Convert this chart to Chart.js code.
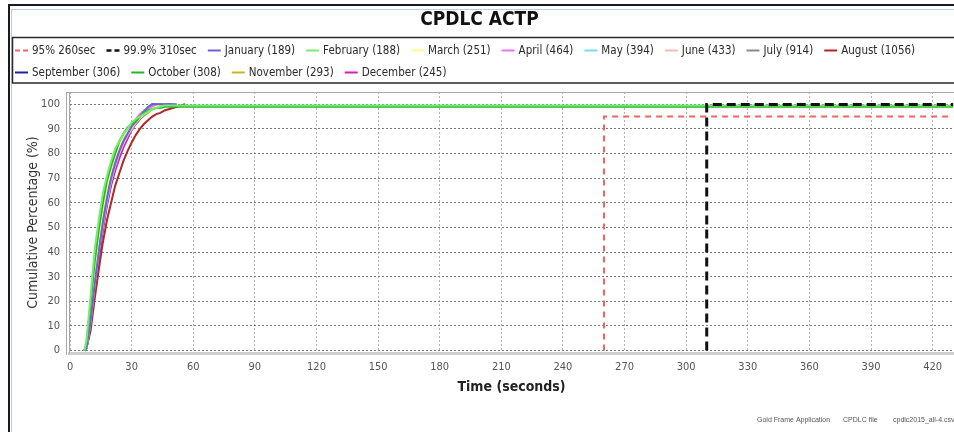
<!DOCTYPE html>
<html>
<head>
<meta charset="utf-8">
<script src="https://cdn.jsdelivr.net/npm/chart.js@4/dist/chart.umd.min.js"></script>
<style>
  html, body { margin: 0; padding: 0; background: #fff; overflow: hidden; }
  #wrap { position: relative; width: 954px; height: 432px; }
</style>
</head>
<body>
<div id="wrap"><canvas id="c" width="954" height="432"></canvas></div>
<script>
// Response time grid (seconds) shared by the monthly cumulative curves
const timeSec = [7, 8, 10, 12, 14, 16, 18, 20, 22, 24, 26, 28, 30, 32, 34, 36, 38, 40, 42, 44, 46, 48, 50, 52, 56, 430];

// Cumulative percentage of messages answered, per month (curve ends at the month's slowest message)
const janPct = [0, 1, 12, 27, 40, 52, 62, 70, 76, 81, 85, 88, 91, 93, 95, 97, 99, 100, 100, 100, 100, 100, 100, 100];
const febPct = [0, 4, 22, 41, 53, 64, 71, 77, 82, 85, 88, 90, 92.5, 94, 95, 96, 97, 98, 98.5, 99, 99.5, 99.5, 99.5, 99.5, 99.5, 99.5];
const marPct = [0, 2, 16, 33, 46, 57, 66, 73, 79, 83, 87, 89, 91, 93, 94.5, 96, 97, 98, 99, 99.5, 100];
const aprPct = [0, 2, 14, 30, 43, 55, 64, 72, 78, 83, 86, 89, 91.5, 94, 96, 97.5, 98.5, 99.5, 100, 100, 100, 100];
const mayPct = [0, 1, 13, 28, 41, 53, 63, 71, 77, 82, 86, 89, 91, 93.5, 95.5, 97, 98.5, 99.5, 100];
const junPct = [0, 1, 12, 27, 40, 51, 61, 69, 75, 80, 84, 87.5, 90, 92.5, 94.5, 96, 97.5, 98.5, 99.5, 100];
const julPct = [0, 1, 11, 26, 39, 50, 60, 68, 75, 80, 84, 87, 90, 92, 94, 95.5, 97, 98, 99, 99.5, 100];
const augPct = [0, 1, 8, 21, 33, 44, 53, 60, 67, 72, 77, 81, 84.5, 87.5, 90, 92, 93.5, 95, 96, 96.5, 97.5, 98, 98.5, 99, 100];
const sepPct = [0, 1, 10, 25, 38, 50, 60, 68, 75, 80, 84.5, 88, 91, 93.5, 95.5, 97, 98.5, 100, 100, 100, 100, 100];
const octPct = [0, 3, 19, 36, 49, 60, 69, 75, 80, 85, 88, 90.5, 92, 93, 95, 96.5, 97.5, 98, 98.5, 98.5, 99, 99, 99, 99, 99, 99];
const novPct = [0, 2, 14, 30, 44, 55, 64, 71, 77, 82, 86, 88, 90, 92, 94, 95.5, 96.5, 98, 99, 100];
const decPct = [0, 1, 10, 24, 37, 49, 59, 67, 73, 78, 82.5, 86, 89.5, 92, 94, 96, 97.5, 99, 100, 100, 100, 100, 100];

const monthNames  = ['January', 'February', 'March', 'April', 'May', 'June', 'July', 'August', 'September', 'October', 'November', 'December'];
const monthCounts = [189, 188, 251, 464, 394, 433, 914, 1056, 306, 308, 293, 245];
const monthPct    = [janPct, febPct, marPct, aprPct, mayPct, junPct, julPct, augPct, sepPct, octPct, novPct, decPct];
const monthColors = ['#6c63d8', '#74ec74', '#fbfb90', '#ec72ec', '#78dcec', '#f8b8b8', '#8a8a8a', '#b02828', '#1e1ea8', '#22b822', '#bcbc20', '#cc20cc'];

// Requirement reference steps
const p95Time  = [260, 260, 430];
const p95Pct   = [0, 95, 95];
const p999Time = [310, 310, 430];
const p999Pct  = [0, 99.9, 99.9];

// Axis ticks
const xTickVals = [0, 30, 60, 90, 120, 150, 180, 210, 240, 270, 300, 330, 360, 390, 420];
const yTickVals = [0, 10, 20, 30, 40, 50, 60, 70, 80, 90, 100];

const FONT = "'DejaVu Sans Condensed', 'Liberation Sans', sans-serif";

function toPoints(xs, ys) {
  const pts = [];
  for (let i = 0; i < ys.length; i++) pts.push({ x: xs[i], y: ys[i] });
  return pts;
}

const datasets = [
  {
    label: '95% 260sec',
    data: toPoints(p95Time, p95Pct),
    borderColor: '#f06464', borderWidth: 2, borderDash: [6, 5],
    legendDash: [5, 3],
    order: -2
  },
  {
    label: '99.9% 310sec',
    data: toPoints(p999Time, p999Pct),
    borderColor: '#111111', borderWidth: 3, borderDash: [9, 5],
    legendDash: [5, 3],
    order: -3
  }
];
monthNames.forEach((name, i) => {
  datasets.push({
    label: name + ' (' + monthCounts[i] + ')',
    data: toPoints(timeSec, monthPct[i]),
    borderColor: monthColors[i],
    borderWidth: 2,
    order: (name === 'February' || name === 'October') ? -1 : 0
  });
});
datasets.forEach(d => {
  d.pointRadius = 0;
  d.pointHoverRadius = 0;
  d.fill = false;
  d.tension = 0;
  d.backgroundColor = d.borderColor;
});

// Legend strip: line sample + label for each series, flowing in rows
const legendPlugin = {
  id: 'seriesLegend',
  afterDraw(chart) {
    const ctx = chart.ctx;
    const rowY = [50, 72];
    const lineLen = 13, textGap = 4, itemGap = 11, startX = 15, maxX = 945;
    ctx.save();
    ctx.font = "11.5px " + FONT;
    ctx.textBaseline = 'middle';
    let x = startX, row = 0;
    chart.data.datasets.forEach(ds => {
      const w = lineLen + textGap + ctx.measureText(ds.label).width;
      if (x + w > maxX && x > startX) { row++; x = startX; }
      const y = rowY[row];
      ctx.strokeStyle = ds.borderColor;
      ctx.lineWidth = ds.legendDash ? Math.min(ds.borderWidth, 2.5) : 2;
      ctx.setLineDash(ds.legendDash || []);
      ctx.beginPath();
      ctx.moveTo(x, y + 0.5); ctx.lineTo(x + lineLen, y + 0.5);
      ctx.stroke();
      ctx.setLineDash([]);
      ctx.fillStyle = '#2a2a2a';
      ctx.fillText(ds.label, x + lineLen + textGap, y + 1);
      x += w + itemGap;
    });
    ctx.restore();
  }
};

// Panel frame, legend box, axis rails and file footer
const framePlugin = {
  id: 'frame',
  beforeDraw(chart) {
    const ctx = chart.ctx;
    ctx.save();
    ctx.fillStyle = '#ffffff';
    ctx.fillRect(0, 0, chart.width, chart.height);
    ctx.restore();
  },
  afterDraw(chart) {
    const ctx = chart.ctx;
    const a = chart.chartArea;
    ctx.save();
    // outer panel border
    ctx.strokeStyle = '#1a1a1a';
    ctx.lineWidth = 2;
    ctx.beginPath();
    ctx.moveTo(8, 5); ctx.lineTo(954, 5);
    ctx.moveTo(9, 5); ctx.lineTo(9, 432);
    ctx.stroke();
    ctx.strokeStyle = '#b9cde6';
    ctx.lineWidth = 1;
    ctx.beginPath();
    ctx.moveTo(11, 9.5); ctx.lineTo(954, 9.5);
    ctx.moveTo(11.5, 9); ctx.lineTo(11.5, 432);
    ctx.stroke();
    // legend box
    ctx.strokeStyle = '#2a2a2a';
    ctx.lineWidth = 1.5;
    ctx.strokeRect(12.5, 37.5, 950, 45.5);
    // plot frame top and y-axis rail
    ctx.strokeStyle = '#a8a8a8';
    ctx.lineWidth = 1;
    ctx.beginPath();
    ctx.moveTo(a.left - 3, a.top + 0.5); ctx.lineTo(a.right, a.top + 0.5);
    ctx.moveTo(a.left - 2.5, a.top); ctx.lineTo(a.left - 2.5, a.bottom + 2);
    ctx.stroke();
    // footer
    ctx.fillStyle = '#555555';
    ctx.font = "7px 'Liberation Sans', sans-serif";
    ctx.textBaseline = 'middle';
    ctx.fillText('Gold Frame Application', 757, 420);
    ctx.fillText('CPDLC file', 843, 420);
    ctx.fillText('cpdlc2015_all-4.csv', 893, 420);
    ctx.restore();
  }
};

new Chart(document.getElementById('c'), {
  type: 'line',
  data: { datasets },
  plugins: [framePlugin, legendPlugin],
  options: {
    responsive: false,
    animation: false,
    devicePixelRatio: 1,
    layout: { padding: { left: 5, right: 0, top: 0, bottom: 0 } },
    plugins: {
      tooltip: { enabled: false },
      legend: { display: false },
      title: {
        display: true,
        text: 'CPDLC ACTP',
        color: '#111111',
        font: { family: FONT, size: 19, weight: 'bold' },
        padding: { top: 9, bottom: 60.2 }
      }
    },
    scales: {
      x: {
        type: 'linear',
        min: -0.5,
        max: 430.4,
        afterBuildTicks: (s) => { s.ticks = xTickVals.map(v => ({ value: v })); },
        afterFit: (s) => { s.height = 79; },
        grid: { color: '#b4b4b4', drawTicks: false, tickLength: 0 },
        border: { display: true, color: '#cfcfcf', width: 3, dash: [2, 2] },
        ticks: { color: '#555555', padding: 8, font: { family: FONT, size: 11 } },
        title: {
          display: true,
          text: 'Time (seconds)',
          color: '#222222',
          font: { family: FONT, size: 14, weight: 'bold' },
          padding: { top: 0, bottom: 36 }
        }
      },
      y: {
        type: 'linear',
        min: -1,
        max: 105,
        afterBuildTicks: (s) => { s.ticks = yTickVals.map(v => ({ value: v })); },
        afterFit: (s) => { s.width = 64; },
        grid: { color: '#7a7a7a', drawTicks: false, tickLength: 0 },
        border: { display: true, color: '#a8a8a8', width: 1, dash: [2, 2] },
        ticks: { color: '#555555', padding: 9, font: { family: FONT, size: 11 } },
        title: {
          display: true,
          text: 'Cumulative Percentage (%)',
          color: '#333333',
          font: { family: FONT, size: 14 },
          padding: { top: 20, bottom: 0 }
        }
      }
    }
  }
});
</script>
</body>
</html>
